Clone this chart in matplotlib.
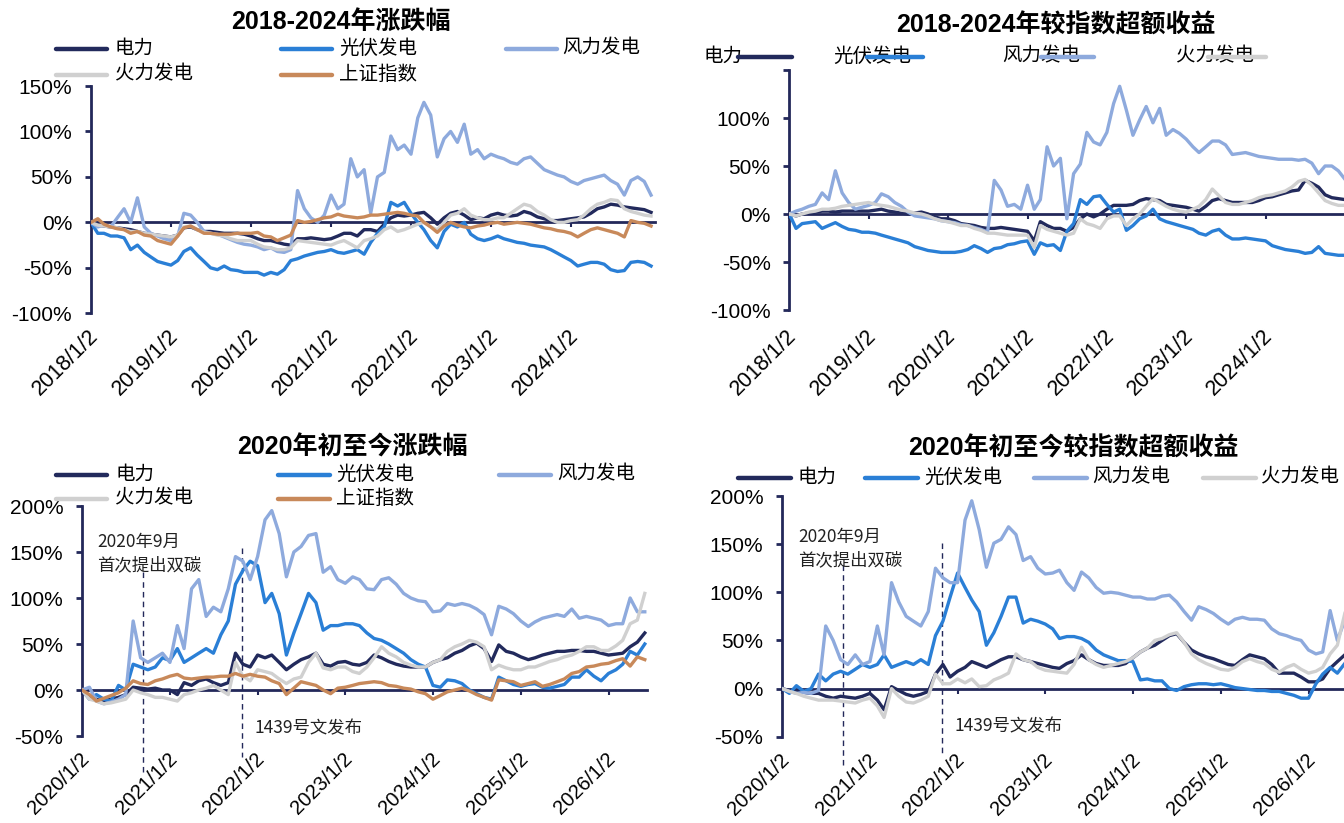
import matplotlib
matplotlib.use("Agg")
import matplotlib.pyplot as plt
import matplotlib.dates as mdates
from matplotlib.lines import Line2D
import pandas as pd

# ---------------- data ----------------
series_names = ["电力", "光伏发电", "风力发电", "火力发电", "上证指数"]
series_colors = ["#222a5c", "#2a7fd6", "#8eaadd", "#d0d0d0", "#c8895a"]

top_start = "2018-01-02"   # monthly observations
bot_start = "2020-01-02"

top_xticklabels = ["2018/1/2", "2019/1/2", "2020/1/2", "2021/1/2", "2022/1/2", "2023/1/2", "2024/1/2"]
bot_xticklabels = ["2020/1/2", "2021/1/2", "2022/1/2", "2023/1/2", "2024/1/2", "2025/1/2", "2026/1/2"]

# 2018-2024 涨跌幅 (%)
tl_power = [0,-3,-4,-5,-6,-7,-8,-10,-12,-13,-14,-15,-16,-14,-6,-5,-8,-10,-10,-11,-12,-12,-12,-13,-15,-18,-20,-20,-22,-24,-25,-18,-18,-17,-18,-19,-18,-15,-12,-12,-15,-8,-8,-10,-2,5,8,7,8,10,11,5,-2,5,10,12,8,3,5,4,8,10,8,7,8,12,10,6,4,2,2,3,4,5,6,10,15,17,20,19,17,16,15,14,11]
tl_pv = [0,-12,-12,-15,-15,-17,-30,-25,-33,-38,-43,-45,-47,-42,-32,-28,-36,-43,-50,-52,-48,-52,-53,-55,-55,-55,-58,-55,-57,-52,-42,-40,-37,-35,-33,-32,-30,-33,-34,-32,-30,-35,-22,-12,-5,22,18,22,10,0,-8,-20,-28,-10,-2,-5,0,-13,-18,-20,-18,-15,-18,-20,-22,-23,-25,-26,-27,-30,-34,-38,-42,-48,-46,-44,-44,-46,-52,-54,-53,-44,-43,-44,-48]
tl_wind = [0,-5,-3,-5,5,15,0,27,-5,-12,-15,-18,-20,-15,10,8,0,-10,-12,-13,-16,-19,-22,-24,-25,-27,-30,-28,-32,-33,-30,35,15,5,0,8,30,15,20,70,50,58,10,50,55,95,80,85,75,115,132,118,72,92,100,88,108,75,80,70,75,72,70,66,64,70,72,65,58,55,52,50,45,42,46,48,50,52,46,42,30,46,50,45,30]
tl_thermal = [0,-3,-4,-5,-6,-8,-10,-10,-12,-13,-14,-15,-16,-14,-5,-4,-8,-11,-12,-14,-15,-18,-20,-20,-20,-24,-27,-28,-30,-30,-28,-20,-21,-22,-23,-24,-25,-22,-20,-24,-28,-20,-18,-15,-8,-5,-10,-8,-5,-2,0,-5,-8,0,8,10,15,8,5,3,3,5,5,10,15,20,18,12,8,3,0,0,2,3,8,15,20,22,25,24,15,12,10,8,7]
tl_index = [0,4,-2,-5,-7,-8,-12,-10,-14,-15,-20,-22,-24,-15,-6,-4,-8,-12,-12,-13,-13,-13,-12,-12,-12,-11,-15,-16,-20,-17,-14,2,0,1,3,5,6,9,7,6,5,6,8,8,9,10,11,10,8,7,0,-5,-11,-4,0,-3,-5,-6,-4,-3,-1,0,-2,-1,0,-1,-2,-4,-6,-7,-9,-10,-12,-16,-12,-8,-6,-8,-10,-12,-16,2,0,-1,-4]

# 2018-2024 较指数超额收益 (%)
tr_power = [0,-2,0,1,2,3,3,2,3,3,3,3,3,4,5,3,2,1,0,1,2,0,-3,-5,-5,-7,-10,-11,-12,-14,-15,-15,-14,-15,-16,-17,-18,-28,-8,-12,-15,-15,-18,-14,-5,0,-3,0,5,9,9,9,10,14,16,15,14,10,9,8,7,5,3,8,14,16,14,12,12,12,12,14,17,18,20,22,24,25,35,32,28,20,17,16,15]
tr_pv = [0,-15,-10,-9,-8,-15,-12,-9,-13,-16,-17,-19,-19,-20,-22,-24,-26,-28,-30,-34,-36,-38,-39,-40,-40,-40,-39,-37,-33,-36,-40,-36,-35,-32,-31,-29,-28,-42,-30,-33,-32,-38,-18,-10,15,10,18,19,10,2,5,-17,-12,-5,-2,5,-5,-8,-10,-12,-14,-16,-20,-22,-18,-16,-22,-26,-26,-25,-26,-27,-28,-33,-35,-37,-38,-39,-41,-40,-34,-41,-42,-43,-43]
tr_wind = [0,3,5,8,10,22,15,45,22,12,5,7,9,12,21,18,12,8,2,-2,-3,-4,-5,-7,-8,-9,-11,-12,-14,-16,-19,35,25,8,10,5,30,5,15,70,50,58,-5,42,52,85,75,72,85,115,133,108,82,98,112,95,110,82,88,84,78,70,64,70,76,76,72,62,63,64,62,60,59,58,57,57,57,56,57,53,42,50,50,45,36]
tr_thermal = [0,-2,0,2,3,5,5,6,8,9,10,11,12,10,9,8,6,4,3,1,0,-2,-5,-7,-8,-10,-12,-12,-15,-17,-20,-20,-21,-22,-22,-22,-22,-35,-12,-16,-18,-20,-22,-20,-5,-10,-12,-15,-5,-2,-2,-12,-5,0,8,16,12,8,5,3,2,5,8,15,26,19,12,10,10,12,14,17,19,20,22,24,28,34,36,30,22,14,11,9,9]

# 2020年初至今涨跌幅 (%)
bl_power = [0,-8,-10,-12,-10,-8,-5,3,2,1,2,0,0,-5,8,5,10,12,8,5,8,40,28,25,38,35,38,30,22,28,33,36,40,28,26,30,31,28,27,30,38,35,31,28,26,25,25,25,30,33,35,40,43,48,51,45,31,49,42,40,36,33,35,38,40,42,42,43,43,42,42,40,38,39,40,47,52,62]
bl_pv = [0,-10,-5,-10,-12,5,0,28,25,22,25,35,32,45,30,35,40,45,40,60,75,115,130,140,135,95,105,83,38,62,83,105,95,65,70,70,72,72,70,62,56,54,50,45,40,33,28,25,5,3,11,10,7,0,-4,-8,-10,14,10,6,4,6,7,3,2,4,6,14,14,22,15,10,18,22,28,42,38,50]
bl_wind = [0,3,-12,-15,-13,-10,-5,75,35,30,35,40,30,70,45,110,120,80,90,85,110,145,140,120,145,185,195,170,123,150,156,168,170,128,134,120,116,123,120,110,109,120,122,115,105,100,97,96,85,86,94,92,94,92,88,82,60,91,88,83,75,69,74,78,80,82,80,88,78,80,78,76,70,72,72,100,85,85]
bl_thermal = [0,-10,-12,-15,-14,-12,-10,0,-3,-5,-8,-8,-10,-12,-5,-3,0,2,5,0,-5,30,15,10,22,20,18,12,7,12,14,30,40,24,22,25,25,20,18,25,35,47,40,36,30,27,25,25,30,33,42,47,50,54,52,47,22,27,24,22,22,25,25,28,31,33,36,38,42,47,47,43,43,48,54,72,76,105]
bl_index = [0,-5,-12,-9,-6,-3,2,10,7,6,10,12,15,17,13,12,13,14,14,15,15,18,15,17,15,14,10,7,-5,2,9,7,5,0,-4,2,3,5,7,8,9,8,5,4,2,1,-2,-4,-10,-6,-2,0,2,-1,-5,-8,-11,11,10,9,5,7,9,4,6,9,12,18,20,25,26,28,29,32,34,26,36,33]

# 2020年初至今较指数超额收益 (%)
br_power = [0,-2,-3,-4,-5,-5,-8,-10,-8,-9,-10,-8,-5,-12,-22,2,-2,-6,-8,-6,-3,15,25,12,18,22,28,25,22,26,30,33,33,30,28,26,24,22,21,26,29,35,30,26,24,24,24,26,32,38,42,45,50,55,57,48,40,36,33,31,28,25,24,30,35,33,31,25,16,16,16,12,7,7,10,21,28,35]
br_pv = [0,-5,3,-3,0,15,8,15,18,15,20,25,22,25,35,22,25,28,25,30,25,55,70,95,120,105,92,80,45,58,75,95,95,68,72,70,67,62,52,54,54,52,48,40,35,32,29,29,28,9,10,8,8,0,-2,2,4,5,5,4,5,3,1,0,-1,-2,-2,-3,-3,-5,-7,-10,-10,5,15,22,16,26]
br_wind = [0,-3,-5,-4,-5,-2,65,50,30,25,35,25,28,65,35,110,90,75,70,65,80,125,115,110,110,175,195,165,126,151,155,168,160,133,137,125,119,120,123,110,102,121,115,105,99,100,99,97,95,95,93,93,96,97,90,80,71,85,82,78,72,67,72,74,72,72,71,62,57,55,52,50,40,36,38,81,50,71]
br_thermal = [0,-3,-5,-8,-10,-12,-12,-12,-13,-14,-15,-12,-10,-18,-30,0,-8,-14,-15,-12,-8,15,5,5,10,6,10,2,3,9,12,16,36,30,28,22,19,18,17,16,25,43,30,25,22,24,26,28,32,38,42,50,52,56,58,48,36,30,26,23,20,19,22,28,31,28,26,20,17,22,25,20,16,18,22,36,45,78]

event_dates = ["2020-09-10", "2021-10-28"]
event_texts = [["2020年9月", "首次提出双碳"], ["1439号文发布"]]

# ---------------- style ----------------
W, H = 1344, 823
NAVY = "#23285a"
fig = plt.figure(figsize=(W / 100, H / 100), dpi=100)
fig.patch.set_facecolor("white")

LATIN = ["Liberation Sans", "DejaVu Sans"]
CJK = ["Noto Sans CJK SC", "DejaVu Sans"]
TITLE_FONT = ["Liberation Sans", "Noto Sans CJK SC"]


def fx(px):
    return px / W


def fy(py):
    return 1 - py / H


def add_axes_px(left, top, right, bottom):
    return fig.add_axes([left / W, 1 - bottom / H, (right - left) / W, (bottom - top) / H])


def monthly(start, n):
    s = pd.Timestamp(start)
    return mdates.date2num([s + pd.DateOffset(months=i) for i in range(n)])


def panel(ax, start, years, series, names, colors, ylim, yticks, ylabels,
          xticklabels, label_y, label_size):
    x = monthly(start, len(series[0]))
    for vals, nm, c in zip(series, names, colors):
        ax.plot(x, vals, color=c, lw=2.4, solid_joinstyle="round", zorder=3)
    x0 = mdates.date2num(pd.Timestamp(start))
    ax.set_xlim(x0, x0 + years * 365.25)
    ax.set_ylim(*ylim)
    for side in ("top", "right"):
        ax.spines[side].set_visible(False)
    ax.spines["left"].set_color(NAVY)
    ax.spines["left"].set_linewidth(2)
    ax.spines["bottom"].set_position(("data", 0))
    ax.spines["bottom"].set_color(NAVY)
    ax.spines["bottom"].set_linewidth(2)
    ax.spines["bottom"].set_zorder(2)
    ax.set_yticks(yticks)
    ax.set_yticklabels(ylabels, fontfamily=LATIN, fontsize=15)
    ax.tick_params(axis="y", direction="out", length=4, width=2, color=NAVY, pad=9.5)
    tpos = mdates.date2num(pd.to_datetime(xticklabels, format="%Y/%m/%d"))
    ax.set_xticks(tpos)
    ax.tick_params(axis="x", direction="out", length=3.5, width=1.5, color=NAVY,
                   labelbottom=False)
    for p, lab in zip(tpos, xticklabels):
        ax.annotate(lab, xy=(p, H - label_y), xycoords=("data", "figure pixels"),
                    xytext=(3, 0), textcoords="offset points",
                    ha="right", va="center", rotation=45, rotation_mode="anchor",
                    fontsize=label_size, fontfamily=LATIN, annotation_clip=False)
    ax.set_facecolor("none")


def legend_px(entries, y):
    # entries: (line_x0, line_x1, text_x, label, color)
    for lx0, lx1, tx, lab, c in entries:
        fig.text(fx(tx), fy(y), lab, ha="left", va="center", fontsize=14,
                 fontfamily=CJK, color="black", zorder=1)
        fig.add_artist(Line2D([fx(lx0), fx(lx1)], [fy(y + 1), fy(y + 1)],
                              transform=fig.transFigure, color=c, lw=3.2,
                              solid_capstyle="round", zorder=5))


# ---------- top-left ----------
ax1 = add_axes_px(91, 86, 655, 313.3)
panel(ax1, top_start, 7.05, [tl_power, tl_pv, tl_wind, tl_thermal, tl_index],
      series_names, series_colors, (-100, 150), [-100, -50, 0, 50, 100, 150],
      ["-100%", "-50%", "0%", "50%", "100%", "150%"], top_xticklabels, 333, 15.5)
fig.text(fx(341), fy(22), "2018-2024年涨跌幅", ha="center", va="center",
         fontsize=18, fontweight="bold", fontfamily=TITLE_FONT)
legend_px([(56, 107, 115, series_names[0], series_colors[0]),
           (281, 332, 339, series_names[1], series_colors[1]),
           (506, 557, 562, series_names[2], series_colors[2])], 48)
legend_px([(56, 107, 115, series_names[3], series_colors[3]),
           (281, 332, 339, series_names[4], series_colors[4])], 74)

# ---------- top-right ----------
ax2 = add_axes_px(789.3, 70, 1349, 310)
panel(ax2, top_start, 7.05, [tr_power, tr_pv, tr_wind, tr_thermal],
      series_names[:4], series_colors[:4], (-100, 150), [-100, -50, 0, 50, 100, 150],
      ["-100%", "-50%", "0%", "50%", "100%", ""], top_xticklabels, 333, 15.5)
fig.text(fx(1056), fy(25), "2018-2024年较指数超额收益", ha="center", va="center",
         fontsize=18, fontweight="bold", fontfamily=TITLE_FONT)
legend_px([(738, 792, 704, series_names[0], series_colors[0]),
           (867, 923, 833, series_names[1], series_colors[1]),
           (1041, 1094, 1002, series_names[2], series_colors[2]),
           (1208, 1266, 1176, series_names[3], series_colors[3])], 56)

# ---------- bottom-left ----------
ax3 = add_axes_px(82, 506, 647, 736)
panel(ax3, bot_start, 6.44, [bl_power, bl_pv, bl_wind, bl_thermal, bl_index],
      series_names, series_colors, (-50, 200), [-50, 0, 50, 100, 150, 200],
      ["-50%", "0%", "50%", "100%", "150%", "200%"], bot_xticklabels, 756, 14.5)
fig.text(fx(352), fy(447), "2020年初至今涨跌幅", ha="center", va="center",
         fontsize=18, fontweight="bold", fontfamily=TITLE_FONT)
legend_px([(56, 107, 116, series_names[0], series_colors[0]),
           (278, 330, 336, series_names[1], series_colors[1]),
           (499, 551, 557, series_names[2], series_colors[2])], 474)
legend_px([(56, 107, 115, series_names[3], series_colors[3]),
           (278, 330, 336, series_names[4], series_colors[4])], 498)

# ---------- bottom-right ----------
ax4 = add_axes_px(782, 496, 1347, 736.7)
panel(ax4, bot_start, 6.44, [br_power, br_pv, br_wind, br_thermal],
      series_names[:4], series_colors[:4], (-50, 200), [-50, 0, 50, 100, 150, 200],
      ["-50%", "0%", "50%", "100%", "150%", "200%"], bot_xticklabels, 757, 14.5)
fig.text(fx(1073), fy(448), "2020年初至今较指数超额收益", ha="center", va="center",
         fontsize=18, fontweight="bold", fontfamily=TITLE_FONT)
legend_px([(738, 791, 798, series_names[0], series_colors[0]),
           (865, 918, 924, series_names[1], series_colors[1]),
           (1034, 1087, 1092, series_names[2], series_colors[2]),
           (1203, 1256, 1261, series_names[3], series_colors[3])], 477)

# ---------- event markers (dashed lines + notes) ----------
def events(ax, spans, notes):
    for d, (y0, y1) in zip(event_dates, spans):
        xd = mdates.date2num(pd.Timestamp(d))
        ax.plot([xd, xd], [y0, y1], color=NAVY, lw=1, ls=(0, (4, 3)), clip_on=False,
                zorder=2)
    for (tx, ty), txt in notes:
        fig.text(fx(tx), fy(ty), txt, ha="left", va="center", fontsize=12.5,
                 fontfamily=CJK, color="#222222")


events(ax3, [(128.6, -88.8), (154, -72.5)],
       [((97, 541.7), event_texts[0][0]), ((97, 565), event_texts[0][1]),
        ((255, 728), event_texts[1][0])])
events(ax4, [(128, -79.6), (151, -67)],
       [((798, 536.7), event_texts[0][0]), ((798, 560), event_texts[0][1]),
        ((955, 726.7), event_texts[1][0])])

fig.savefig("out.png", dpi=100, facecolor="white")
